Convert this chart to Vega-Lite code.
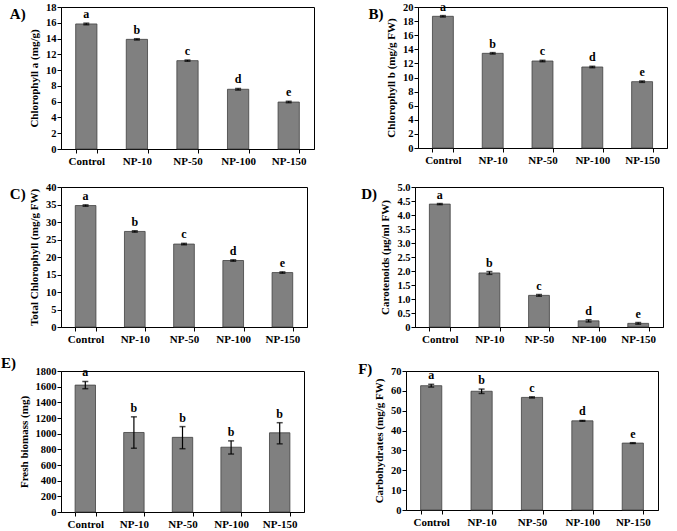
{
  "$schema": "https://vega.github.io/schema/vega-lite/v6.json",
  "background": "white",
  "padding": {"left": 0, "top": 0, "right": 2, "bottom": 0},
  "datasets": {
    "A": [
      {"treatment": "Control", "mean": 15.85, "lo": 15.75, "hi": 15.95, "letter": "a"},
      {"treatment": "NP-10", "mean": 13.9, "lo": 13.82, "hi": 13.98, "letter": "b"},
      {"treatment": "NP-50", "mean": 11.2, "lo": 11.12, "hi": 11.28, "letter": "c"},
      {"treatment": "NP-100", "mean": 7.57, "lo": 7.47, "hi": 7.67, "letter": "d"},
      {"treatment": "NP-150", "mean": 5.95, "lo": 5.87, "hi": 6.05, "letter": "e"}
    ],
    "B": [
      {"treatment": "Control", "mean": 18.68, "lo": 18.58, "hi": 18.78, "letter": "a"},
      {"treatment": "NP-10", "mean": 13.43, "lo": 13.33, "hi": 13.53, "letter": "b"},
      {"treatment": "NP-50", "mean": 12.34, "lo": 12.24, "hi": 12.44, "letter": "c"},
      {"treatment": "NP-100", "mean": 11.49, "lo": 11.39, "hi": 11.59, "letter": "d"},
      {"treatment": "NP-150", "mean": 9.41, "lo": 9.31, "hi": 9.51, "letter": "e"}
    ],
    "C": [
      {"treatment": "Control", "mean": 34.7, "lo": 34.5, "hi": 34.9, "letter": "a"},
      {"treatment": "NP-10", "mean": 27.3, "lo": 27.1, "hi": 27.5, "letter": "b"},
      {"treatment": "NP-50", "mean": 23.7, "lo": 23.5, "hi": 23.9, "letter": "c"},
      {"treatment": "NP-100", "mean": 19.0, "lo": 18.8, "hi": 19.2, "letter": "d"},
      {"treatment": "NP-150", "mean": 15.55, "lo": 15.35, "hi": 15.75, "letter": "e"}
    ],
    "D": [
      {"treatment": "Control", "mean": 4.39, "lo": 4.37, "hi": 4.41, "letter": "a"},
      {"treatment": "NP-10", "mean": 1.93, "lo": 1.88, "hi": 1.98, "letter": "b"},
      {"treatment": "NP-50", "mean": 1.13, "lo": 1.1, "hi": 1.16, "letter": "c"},
      {"treatment": "NP-100", "mean": 0.22, "lo": 0.18, "hi": 0.26, "letter": "d"},
      {"treatment": "NP-150", "mean": 0.13, "lo": 0.1, "hi": 0.16, "letter": "e"}
    ],
    "E": [
      {"treatment": "Control", "mean": 1620, "lo": 1574, "hi": 1666, "letter": "a"},
      {"treatment": "NP-10", "mean": 1015, "lo": 814, "hi": 1215, "letter": "b"},
      {"treatment": "NP-50", "mean": 953, "lo": 808, "hi": 1090, "letter": "b"},
      {"treatment": "NP-100", "mean": 827, "lo": 740, "hi": 908, "letter": "b"},
      {"treatment": "NP-150", "mean": 1011, "lo": 870, "hi": 1140, "letter": "b"}
    ],
    "F": [
      {"treatment": "Control", "mean": 62.6, "lo": 61.9, "hi": 63.3, "letter": "a"},
      {"treatment": "NP-10", "mean": 59.8, "lo": 58.7, "hi": 60.9, "letter": "b"},
      {"treatment": "NP-50", "mean": 56.7, "lo": 56.4, "hi": 57.0, "letter": "c"},
      {"treatment": "NP-100", "mean": 44.9, "lo": 44.7, "hi": 45.1, "letter": "d"},
      {"treatment": "NP-150", "mean": 33.7, "lo": 33.5, "hi": 33.9, "letter": "e"}
    ]
  },
  "vconcat": [
    {
      "vconcat": [
        {
          "hconcat": [
            {
              "width": 253, "height": 142,
              "data": {"name": "A"},
              "title": {"text": "A)"},
              "encoding": {
                "x": {"field": "treatment", "type": "nominal", "sort": null, "title": null,
                      "scale": {"paddingInner": 0.58, "paddingOuter": 0.29}}
              },
              "layer": [
                {"mark": {"type": "bar", "color": "#808080", "stroke": "#404040", "strokeWidth": 0.8},
                 "encoding": {"y": {"field": "mean", "type": "quantitative", "title": "Chlorophyll a (mg/g)",
                                    "scale": {"domain": [0, 18], "nice": false},
                                    "axis": {"values": [0, 2, 4, 6, 8, 10, 12, 14, 16, 18]}}}},
                {"mark": {"type": "errorbar", "ticks": {"size": 6, "thickness": 1.5, "color": "black"}, "rule": {"color": "black", "strokeWidth": 1.2}},
                 "encoding": {"y": {"field": "lo", "type": "quantitative", "title": "Chlorophyll a (mg/g)",
                                    "axis": {"values": [0, 2, 4, 6, 8, 10, 12, 14, 16, 18]}}, "y2": {"field": "hi"}}},
                {"mark": {"type": "text", "baseline": "bottom", "dy": -2, "fontWeight": "bold", "fontSize": 12},
                 "encoding": {"y": {"field": "hi", "type": "quantitative", "title": "Chlorophyll a (mg/g)",
                                    "axis": {"values": [0, 2, 4, 6, 8, 10, 12, 14, 16, 18]}}, "text": {"field": "letter"}}}
              ]
            },
            {
              "width": 249, "height": 141,
              "data": {"name": "B"},
              "title": {"text": "B)"},
              "encoding": {
                "x": {"field": "treatment", "type": "nominal", "sort": null, "title": null,
                      "scale": {"paddingInner": 0.58, "paddingOuter": 0.29}}
              },
              "layer": [
                {"mark": {"type": "bar", "color": "#808080", "stroke": "#404040", "strokeWidth": 0.8},
                 "encoding": {"y": {"field": "mean", "type": "quantitative", "title": "Chlorophyll b (mg/g FW)",
                                    "scale": {"domain": [0, 20], "nice": false},
                                    "axis": {"values": [0, 2, 4, 6, 8, 10, 12, 14, 16, 18, 20]}}}},
                {"mark": {"type": "errorbar", "ticks": {"size": 6, "thickness": 1.5, "color": "black"}, "rule": {"color": "black", "strokeWidth": 1.2}},
                 "encoding": {"y": {"field": "lo", "type": "quantitative", "title": "Chlorophyll b (mg/g FW)",
                                    "axis": {"values": [0, 2, 4, 6, 8, 10, 12, 14, 16, 18, 20]}}, "y2": {"field": "hi"}}},
                {"mark": {"type": "text", "baseline": "bottom", "dy": -2, "fontWeight": "bold", "fontSize": 12},
                 "encoding": {"y": {"field": "hi", "type": "quantitative", "title": "Chlorophyll b (mg/g FW)",
                                    "axis": {"values": [0, 2, 4, 6, 8, 10, 12, 14, 16, 18, 20]}}, "text": {"field": "letter"}}}
              ]
            }
          ]
        },
        {
          "hconcat": [
            {
              "width": 246, "height": 140,
              "data": {"name": "C"},
              "title": {"text": "C)"},
              "encoding": {
                "x": {"field": "treatment", "type": "nominal", "sort": null, "title": null,
                      "scale": {"paddingInner": 0.58, "paddingOuter": 0.29}}
              },
              "layer": [
                {"mark": {"type": "bar", "color": "#808080", "stroke": "#404040", "strokeWidth": 0.8},
                 "encoding": {"y": {"field": "mean", "type": "quantitative", "title": "Total Chlorophyll (mg/g FW)",
                                    "scale": {"domain": [0, 40], "nice": false},
                                    "axis": {"values": [0, 5, 10, 15, 20, 25, 30, 35, 40]}}}},
                {"mark": {"type": "errorbar", "ticks": {"size": 6, "thickness": 1.5, "color": "black"}, "rule": {"color": "black", "strokeWidth": 1.2}},
                 "encoding": {"y": {"field": "lo", "type": "quantitative", "title": "Total Chlorophyll (mg/g FW)",
                                    "axis": {"values": [0, 5, 10, 15, 20, 25, 30, 35, 40]}}, "y2": {"field": "hi"}}},
                {"mark": {"type": "text", "baseline": "bottom", "dy": -2, "fontWeight": "bold", "fontSize": 12},
                 "encoding": {"y": {"field": "hi", "type": "quantitative", "title": "Total Chlorophyll (mg/g FW)",
                                    "axis": {"values": [0, 5, 10, 15, 20, 25, 30, 35, 40]}}, "text": {"field": "letter"}}}
              ]
            },
            {
              "width": 248, "height": 140,
              "data": {"name": "D"},
              "title": {"text": "D)"},
              "encoding": {
                "x": {"field": "treatment", "type": "nominal", "sort": null, "title": null,
                      "scale": {"paddingInner": 0.58, "paddingOuter": 0.29}}
              },
              "layer": [
                {"mark": {"type": "bar", "color": "#808080", "stroke": "#404040", "strokeWidth": 0.8},
                 "encoding": {"y": {"field": "mean", "type": "quantitative", "title": "Carotenoids (µg/ml FW)",
                                    "scale": {"domain": [0, 5], "nice": false},
                                    "axis": {"values": [0, 0.5, 1, 1.5, 2, 2.5, 3, 3.5, 4, 4.5, 5],
                                             "labelExpr": "datum.value == 0 ? '0' : format(datum.value, '.1f')"}}}},
                {"mark": {"type": "errorbar", "ticks": {"size": 6, "thickness": 1.5, "color": "black"}, "rule": {"color": "black", "strokeWidth": 1.2}},
                 "encoding": {"y": {"field": "lo", "type": "quantitative", "title": "Carotenoids (µg/ml FW)",
                                    "axis": {"values": [0, 0.5, 1, 1.5, 2, 2.5, 3, 3.5, 4, 4.5, 5],
                                             "labelExpr": "datum.value == 0 ? '0' : format(datum.value, '.1f')"}}, "y2": {"field": "hi"}}},
                {"mark": {"type": "text", "baseline": "bottom", "dy": -2, "fontWeight": "bold", "fontSize": 12},
                 "encoding": {"y": {"field": "hi", "type": "quantitative", "title": "Carotenoids (µg/ml FW)",
                                    "axis": {"values": [0, 0.5, 1, 1.5, 2, 2.5, 3, 3.5, 4, 4.5, 5],
                                             "labelExpr": "datum.value == 0 ? '0' : format(datum.value, '.1f')"}}, "text": {"field": "letter"}}}
              ]
            }
          ]
        }
      ],
      "spacing": 14
    },
    {
      "hconcat": [
        {
          "width": 243, "height": 141,
          "data": {"name": "E"},
          "title": {"text": "E)", "dy": -15},
          "encoding": {
            "x": {"field": "treatment", "type": "nominal", "sort": null, "title": null,
                  "scale": {"paddingInner": 0.58, "paddingOuter": 0.29}}
          },
          "layer": [
            {"mark": {"type": "bar", "color": "#808080", "stroke": "#404040", "strokeWidth": 0.8},
             "encoding": {"y": {"field": "mean", "type": "quantitative", "title": "Fresh biomass (mg)",
                                "scale": {"domain": [0, 1800], "nice": false},
                                "axis": {"values": [0, 200, 400, 600, 800, 1000, 1200, 1400, 1600, 1800], "format": "d"}}}},
            {"mark": {"type": "errorbar", "ticks": {"size": 6, "thickness": 1.5, "color": "black"}, "rule": {"color": "black", "strokeWidth": 1.2}},
             "encoding": {"y": {"field": "lo", "type": "quantitative", "title": "Fresh biomass (mg)",
                                "axis": {"values": [0, 200, 400, 600, 800, 1000, 1200, 1400, 1600, 1800], "format": "d"}}, "y2": {"field": "hi"}}},
            {"mark": {"type": "text", "baseline": "bottom", "dy": -2, "fontWeight": "bold", "fontSize": 12},
             "encoding": {"y": {"field": "hi", "type": "quantitative", "title": "Fresh biomass (mg)",
                                "axis": {"values": [0, 200, 400, 600, 800, 1000, 1200, 1400, 1600, 1800], "format": "d"}}, "text": {"field": "letter"}}}
          ]
        },
        {
          "width": 252, "height": 139,
          "data": {"name": "F"},
          "title": {"text": "F)", "dy": -9},
          "encoding": {
            "x": {"field": "treatment", "type": "nominal", "sort": null, "title": null,
                  "scale": {"paddingInner": 0.58, "paddingOuter": 0.29}}
          },
          "layer": [
            {"mark": {"type": "bar", "color": "#808080", "stroke": "#404040", "strokeWidth": 0.8},
             "encoding": {"y": {"field": "mean", "type": "quantitative", "title": "Carbohydrates (mg/g FW)",
                                "scale": {"domain": [0, 70], "nice": false},
                                "axis": {"values": [0, 10, 20, 30, 40, 50, 60, 70]}}}},
            {"mark": {"type": "errorbar", "ticks": {"size": 6, "thickness": 1.5, "color": "black"}, "rule": {"color": "black", "strokeWidth": 1.2}},
             "encoding": {"y": {"field": "lo", "type": "quantitative", "title": "Carbohydrates (mg/g FW)",
                                "axis": {"values": [0, 10, 20, 30, 40, 50, 60, 70]}}, "y2": {"field": "hi"}}},
            {"mark": {"type": "text", "baseline": "bottom", "dy": -2, "fontWeight": "bold", "fontSize": 12},
             "encoding": {"y": {"field": "hi", "type": "quantitative", "title": "Carbohydrates (mg/g FW)",
                                "axis": {"values": [0, 10, 20, 30, 40, 50, 60, 70]}}, "text": {"field": "letter"}}}
          ]
        }
      ]
    }
  ],
  "spacing": 10,
  "config": {
    "font": "Liberation Serif",
    "concat": {"spacing": 52},
    "view": {"stroke": "black", "strokeWidth": 1},
    "axis": {
      "grid": false,
      "domainColor": "black", "tickColor": "black", "labelColor": "black", "titleColor": "black",
      "labelFont": "Liberation Serif", "titleFont": "Liberation Serif",
      "labelFontWeight": "bold", "titleFontWeight": "bold",
      "labelFontSize": 10.5, "titleFontSize": 11, "tickSize": 4, "labelPadding": 1, "titlePadding": 6
    },
    "axisX": {"labelAngle": 0, "tickBand": "extent", "labelFontSize": 11, "labelPadding": 2},
    "title": {
      "orient": "left", "angle": 0, "anchor": "end", "frame": "group",
      "align": "right", "baseline": "top", "fontSize": 15, "fontWeight": "bold",
      "font": "Liberation Serif", "color": "black", "offset": -13
    }
  }
}
